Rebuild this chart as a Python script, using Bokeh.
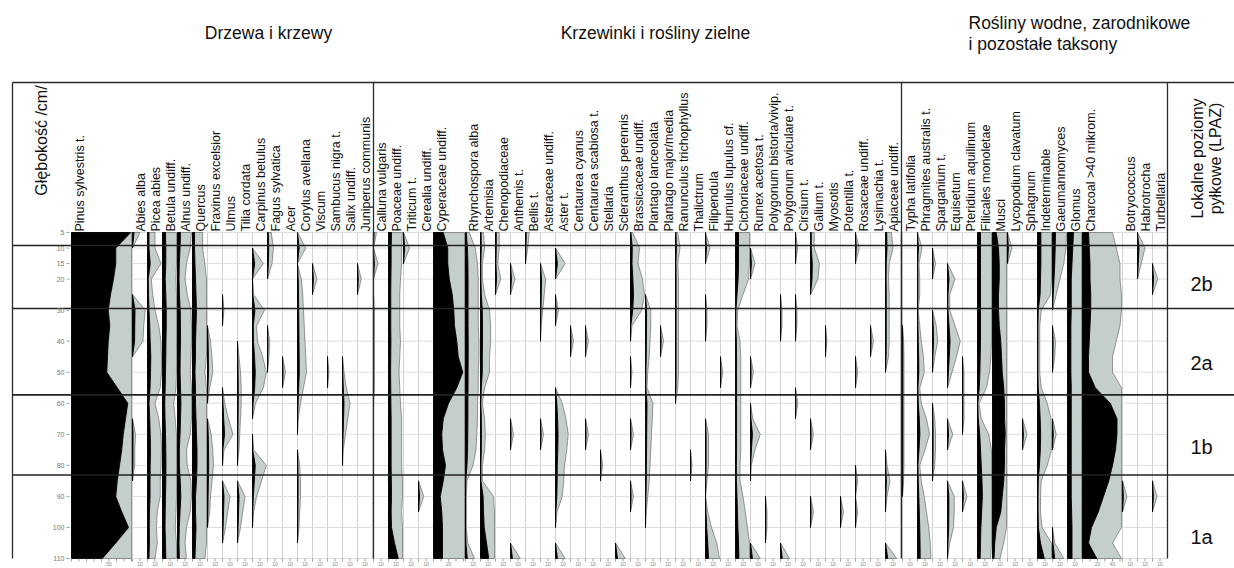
import math
from bokeh.plotting import figure
from bokeh.models import Range1d
from bokeh.core.properties import value
from bokeh.embed import file_html
from bokeh.resources import INLINE

# ---------------- data ----------------
DEPTHS = [5, 10, 15, 20, 25, 30, 35, 40, 45, 50, 55, 60, 65, 70, 75, 80, 85, 90, 95, 100, 105, 110]
DEPTH_TICKS = [5, 10, 15, 20, 30, 40, 50, 60, 70, 80, 90, 100, 110]
ZONE_BOUNDS = [9.2, 29.5, 57.3, 83.1]
ZONE_NAMES = ["2b", "2a", "1b", "1a"]
ZONE_LABEL_DEPTH = [21.5, 47, 74, 103]

GROUP_TITLES = ["Drzewa i krzewy", "Krzewinki i rośliny zielne",
                "Rośliny wodne, zarodnikowe\ni pozostałe taksony"]
DEPTH_TITLE = "Głębokość /cm/"
LPAZ_TITLE = ["Lokalne poziomy", "pyłkowe (LPAZ)"]
PCT_TICKS_NARROW = [10]
PCT_TICKS_WIDE = {"Pinus sylvestris t.": [50], "Cyperaceae undiff.": [20], "Charcoal >40 mikrom.": [20, 40]}

# trees and shrubs (%)
pinus = [79, 59, 59, 56, 52, 49, 51, 49, 48, 47, 61, 75, 72, 69, 67, 64, 61, 59, 67, 76, 59, 41]
abies = [2.0, 0, 0, 0, 0, 3.4, 3.0, 2.8, 0, 0, 0, 0, 0, 0.8, 0.6, 0.6, 0, 0, 0, 0, 0, 0]
picea = [2.0, 2.0, 3.6, 1.0, 1.4, 2.0, 3.0, 3.6, 4.4, 4.0, 3.4, 2.0, 3.0, 3.6, 4.0, 3.6, 3.4, 3.4, 2.6, 2.4, 2.6, 2.0]
betula = [4.0, 4.4, 4.4, 3.6, 4.4, 5.0, 5.0, 4.6, 4.4, 4.0, 3.6, 3.0, 3.4, 4.0, 4.4, 4.6, 4.4, 4.0, 3.6, 3.4, 4.0, 4.4]
alnus = [4.0, 3.4, 2.4, 2.0, 2.6, 3.6, 4.0, 4.0, 3.6, 3.4, 4.0, 4.6, 4.0, 3.4, 2.4, 2.6, 3.6, 4.4, 3.4, 2.4, 2.0, 2.4]
quercus = [2.7, 2.7, 3.3, 4.0, 4.7, 5.3, 4.7, 4.0, 4.0, 3.3, 4.0, 4.0, 4.7, 5.3, 6.0, 6.0, 5.3, 4.0, 4.0, 4.7, 4.0, 3.3]
fraxinus = [0, 0, 0, 0, 0, 0, 0, 0.8, 1.2, 1.4, 0.6, 0, 0, 1.0, 1.4, 1.6, 1.2, 0.8, 0.6, 0, 0, 0]
ulmus = [0, 0, 0, 0, 0, 0.4, 0, 0, 0, 0, 0, 0.6, 1.6, 2.8, 0.4, 0, 0, 2.0, 1.4, 0.8, 0, 0]
tilia = [0, 0, 0, 0, 0, 0, 0, 0, 0.4, 0.8, 1.0, 1.0, 0.8, 0.6, 0.4, 0, 0, 2.0, 1.4, 0.8, 0, 0]
carpinus = [0, 0, 2.9, 0, 0.3, 3.2, 1.1, 1.3, 2.7, 3.7, 2.9, 0.8, 0, 0, 0.3, 3.7, 2.4, 1.1, 0.3, 0, 0, 0]
fagus = [1.0, 1.6, 1.2, 0, 0, 0, 0, 0.6, 0.4, 0, 0, 0, 0, 0, 0, 0, 0, 0, 0, 0, 0, 0]
acer = [0, 0, 0, 0, 0, 0, 0, 0, 0, 0.8, 0, 0, 0, 0, 0, 0, 0, 0, 0, 0, 0, 0]
corylus = [0, 2.2, 0, 1.0, 1.4, 1.6, 1.8, 2.0, 2.2, 2.4, 1.6, 0.8, 0.2, 0, 0, 0.6, 0.8, 0.8, 0.6, 0.4, 0, 0]
viscum = [0, 0, 0, 1.2, 0, 0, 0, 0, 0, 0, 0, 0, 0, 0, 0, 0, 0, 0, 0, 0, 0, 0]
sambucus = [0, 0, 0, 0, 0, 0, 0, 0, 0, 0.4, 0, 0, 0, 0, 0, 0, 0, 0, 0, 0, 0, 0]
salix = [0, 0, 0, 0, 0, 0, 0, 0, 0, 0.4, 1.0, 2.0, 1.4, 0.8, 0.2, 0, 0, 0, 0, 0, 0, 0]
juniperus = [0, 0, 0, 1.0, 0, 0, 0, 0, 0, 0, 0, 0, 0, 0, 0, 0, 0, 0, 0, 0, 0, 0]

# dwarf shrubs and herbs (%)
calluna = [0.8, 0, 1.2, 0, 0, 0.2, 0.2, 0.2, 0.2, 0.2, 0.2, 0, 0, 0, 0, 0, 0, 0, 0, 0, 0, 0]
poaceae = [4, 3.5, 3.5, 3.2, 3, 3, 3, 3.2, 3, 2.8, 3, 3.2, 3.5, 3.5, 3.5, 3.5, 3.8, 4, 3.5, 4, 8, 13]
triticum = [0, 1.6, 0, 0, 0, 0, 0, 0, 0, 0, 0, 0, 0, 0, 0, 0, 0, 0, 0, 0, 0, 0]
cerealia = [0, 0, 0, 0, 0, 0, 0, 0, 0, 0, 0, 0, 0, 0, 0, 0, 0, 1.4, 0, 0, 0, 0]
cyperaceae = [13, 19, 19, 21, 25, 27, 28, 31, 33, 39, 31, 20, 13, 11, 12, 16, 13, 9, 11, 12, 12, 12]
rhynchospora = [1.0, 2.6, 3.2, 3.4, 3.4, 3.4, 3.4, 3.6, 3.6, 3.4, 3.4, 3.2, 3.2, 3.0, 2.8, 2.0, 0.4, 0.2, 0.2, 0.2, 0.6, 2.4]
artemisia = [0.8, 1.1, 0.5, 0.5, 1.1, 2.4, 2.7, 2.7, 2.4, 2.4, 1.1, 0.5, 1.1, 1.3, 1.1, 0.5, 0.5, 3.5, 4, 5, 8, 11]
chenopodiaceae = [1.0, 1.0, 0.6, 1.4, 0, 0, 0, 0, 0, 0, 0, 0, 0, 0, 0, 0, 0, 0, 0, 0, 0, 0]
anthemis = [0, 0, 0, 1.2, 0, 0, 0, 0, 0, 0, 0, 0, 0, 0.8, 0, 0, 0, 0, 0, 0, 0, 2.6]
bellis = [1.0, 0.6, 0, 0, 0, 0, 0, 0, 0, 0, 0, 0, 0, 0, 0, 0, 0, 0, 0, 0, 0, 0]
asteraceae = [0, 0, 0, 1.4, 1.0, 0.6, 0.2, 0, 0, 0, 0, 0, 0, 0.8, 0, 0, 0, 0, 0, 0, 0, 0]
aster = [0, 0, 2.6, 0, 0, 0.8, 0, 0, 0, 0, 0, 1.8, 2.8, 3.4, 3.0, 2.4, 2.2, 1.8, 0.4, 0, 0, 2.6]
centaurea_cyanus = [0, 0, 0, 0, 0, 0, 0, 0.8, 0, 0, 0, 0, 0, 0, 0, 0, 0, 0, 0, 0, 0, 0]
centaurea_scabiosa = [0, 0, 0, 0, 0, 0, 0, 0.8, 0, 0, 0, 0, 0, 0.8, 0, 0, 0, 0, 0, 0, 0, 0]
stellaria = [0, 0, 0, 0, 0, 0, 0, 0, 0, 0, 0, 0, 0, 0, 0, 0.6, 0, 0, 0, 0, 0, 0]
scleranthus = [0, 0, 0, 0, 0, 0, 0, 0, 0, 0, 0, 0, 0, 0, 0, 0, 0, 0, 0, 0, 0, 2.6]
brassicaceae = [0.6, 2.4, 2.0, 3.2, 4.0, 3.0, 0.4, 0, 0, 0.4, 0, 0, 0, 0.8, 0, 0, 0, 0.8, 0, 0, 0, 0]
plantago_lanc = [0, 0, 0, 0, 0, 1.4, 1.4, 1.2, 1.0, 0.6, 0.4, 2.0, 1.8, 1.6, 1.4, 1.2, 1.0, 0.6, 0.2, 0, 0, 0]
plantago_major = [0, 0, 0, 0, 0, 0, 0, 0.8, 0, 0, 0, 0, 0, 0, 0, 0, 0, 0, 0, 0, 0, 0]
ranunculus = [0.6, 1.2, 0.6, 0.8, 0.8, 0.8, 0.8, 0.8, 0.8, 0.8, 0.6, 0, 0, 0, 0, 0, 0, 0, 0, 0, 0, 0]
thalictrum = [0, 0, 0, 0, 0, 0, 0, 0, 0, 0, 0, 0, 0, 0, 0, 0.4, 0, 0, 0, 0, 0, 0]
filipendula = [0, 1.2, 0, 0, 0, 0.4, 0.4, 0, 0, 0, 0, 0, 0, 0.8, 0.8, 0.8, 0.4, 0, 0.6, 1.6, 3.0, 4.0]
humulus = [0, 0, 0, 0, 0, 0, 0, 0, 0, 0.6, 0, 0, 0, 0, 0, 0, 0, 0, 0, 0, 0, 0]
cichoriaceae = [4.0, 4.0, 4.0, 3.5, 2.0, 0.6, 0.4, 1.2, 1.4, 1.4, 1.4, 1.4, 1.4, 1.4, 1.4, 1.2, 1.2, 2.0, 2.6, 3.2, 4.0, 4.5]
rumex = [0, 0, 1.2, 0, 0, 0, 0, 0, 0, 0.8, 0, 0, 0.6, 2.6, 1.2, 0.2, 0, 0, 0, 0, 0, 2.6]
polygonum_bistorta = [0, 0, 0, 0, 0, 0, 0, 0, 0, 0, 0, 0, 0, 0, 0, 0, 0, 0, 0.4, 0.4, 0, 0]
polygonum_aviculare = [0, 0, 0, 0, 0, 0.4, 0.4, 0, 0, 0, 0, 0, 0, 0, 0, 0, 0, 0, 0, 0, 0, 2.4]
cirsium = [0, 0.6, 0, 0, 0, 0.4, 0.4, 0, 0, 0, 0, 0.6, 0, 0, 0, 0, 0, 0, 0, 0, 0, 0]
galium = [1.0, 1.0, 2.4, 2.0, 0, 0, 0, 0, 0, 0, 0, 0, 0, 0.8, 0, 0, 0, 0, 0.8, 0, 0, 0]
myosotis = [0, 0, 0, 0, 0, 0, 0, 0.4, 0, 0, 0, 0, 0, 0, 0, 0, 0, 0, 0, 0, 0, 0]
potentilla = [0, 0, 0, 0, 0, 0, 0, 0, 0, 0, 0, 0, 0, 0, 0, 0, 0, 0, 0.8, 0, 0, 0]
rosaceae = [0, 1.0, 0, 0, 0, 0, 0, 0, 0, 0.6, 0, 0, 0, 0, 0, 0, 0.6, 0, 0.6, 0, 0, 0]
lysimachia = [0, 0, 0, 0, 0, 0, 0, 0.8, 0, 0, 0, 0, 0, 0, 0, 0, 0, 0, 0, 0, 0, 0]
apiaceae = [1.6, 2.0, 1.0, 0.8, 1.0, 1.0, 1.0, 1.0, 0.8, 0, 0, 0, 0, 0, 0, 0.4, 1.2, 0.4, 0, 0, 0, 3.0]

# aquatic, spore plants and other taxa (%)
typha = [0, 0, 0, 0, 0, 0, 0, 0.3, 0.4, 0.4, 0.4, 0.4, 0.4, 0.4, 0.4, 0.4, 0.3, 0, 0, 0, 0, 0]
phragmites = [0, 1.2, 0.4, 0.6, 0.6, 0.2, 0.6, 1.0, 1.6, 1.8, 0.6, 1.0, 2.4, 3.2, 2.0, 0.6, 1.0, 1.8, 2.4, 3.0, 3.4, 3.6]
sparganium = [0, 0, 0.8, 0, 0, 0, 1.0, 1.4, 0.6, 0, 0, 0, 0.6, 0.8, 0.8, 0.6, 0, 0, 0, 0, 0, 0]
equisetum = [0, 0, 0, 2.0, 0.6, 0.6, 2.0, 3.4, 2.4, 1.2, 0, 0, 0, 1.4, 0, 0, 0, 1.8, 1.8, 1.6, 0.6, 0]
pteridium = [0, 0, 0, 0, 0, 0, 0, 0, 0, 0.4, 0.4, 0.4, 0.4, 0, 0, 0, 0, 1.2, 0, 0, 0, 0]
filicales = [4, 4, 4, 4, 4, 4, 4, 4, 3.6, 3.2, 2.4, 0.4, 1.0, 3.0, 4.0, 5.0, 6.0, 6.5, 5.5, 4.5, 4.0, 3.5]
musci = [5, 8, 9, 9, 8, 8, 9, 11, 12, 13, 15, 16, 16, 17, 16, 16, 15, 13, 11, 5, 3, 2]
lycopodium = [0, 1.2, 0, 0, 0, 0, 0, 0, 0, 0, 0, 0, 0, 0, 0, 0, 0, 0, 0, 0, 0, 0]
sphagnum = [0, 0, 0, 0, 0, 0, 0, 0, 0, 0, 0, 0, 0, 1.2, 0, 0, 0, 0, 0, 0, 0, 0]
indeterminable = [4.5, 4.5, 4.5, 4.0, 3.5, 1.0, 0.6, 0.6, 0.6, 0.6, 1.0, 2.6, 3.6, 4.2, 3.8, 2.6, 1.0, 0.8, 0.8, 1.2, 4, 9]
gaeumannomyces = [4.0, 3.6, 3.0, 2.0, 1.0, 0, 0, 0.8, 0.6, 0, 0, 0, 0, 1.0, 0, 0, 0, 0, 0, 0, 0.6, 3.0]
glomus = [8, 7, 6, 5, 5, 5, 4.5, 4.5, 4.5, 4.5, 5, 5, 5, 5, 5, 5, 5, 5, 5.5, 6, 6, 6]
charcoal = [8, 9, 10, 10, 11, 11, 10, 9, 8, 8, 17, 37, 46, 46, 44, 40, 35, 28, 21, 12, 8, 19]
botryococcus = [0, 0, 0, 0, 0, 0, 0, 0, 0, 0, 0, 0, 0, 0, 0, 0, 0, 1.2, 0, 0, 0, 0]
habrotrocha = [0, 2.0, 1.0, 0, 0, 0, 0, 0, 0, 0, 0, 0, 0, 0, 0, 0, 0, 0, 0, 0, 0, 0]
turbellaria = [0, 0, 0, 1.4, 0, 0, 0, 0, 0, 0, 0, 0, 0, 0, 0, 0, 0, 1.2, 0, 0, 0, 0]

TREES = [("Pinus sylvestris t.", pinus), ("Abies alba", abies), ("Picea abies", picea),
         ("Betula undiff.", betula), ("Alnus undiff.", alnus), ("Quercus", quercus),
         ("Fraxinus excelsior", fraxinus), ("Ulmus", ulmus), ("Tilia cordata", tilia),
         ("Carpinus betulus", carpinus), ("Fagus sylvatica", fagus), ("Acer", acer),
         ("Corylus avellana", corylus), ("Viscum", viscum), ("Sambucus nigra t.", sambucus),
         ("Salix undiff.", salix), ("Juniperus communis", juniperus)]
HERBS = [("Calluna vulgaris", calluna), ("Poaceae undiff.", poaceae), ("Triticum t.", triticum),
         ("Cerealia undiff.", cerealia), ("Cyperaceae undiff.", cyperaceae),
         ("Rhynchospora alba", rhynchospora), ("Artemisia", artemisia),
         ("Chenopodiaceae", chenopodiaceae), ("Anthemis t.", anthemis), ("Bellis t.", bellis),
         ("Asteraceae undiff.", asteraceae), ("Aster t.", aster),
         ("Centaurea cyanus", centaurea_cyanus), ("Centaurea scabiosa t.", centaurea_scabiosa),
         ("Stellaria", stellaria), ("Scleranthus perennis", scleranthus),
         ("Brassicaceae undiff.", brassicaceae), ("Plantago lanceolata", plantago_lanc),
         ("Plantago major/media", plantago_major), ("Ranunculus trichophyllus", ranunculus),
         ("Thalictrum", thalictrum), ("Filipendula", filipendula), ("Humulus lupulus cf.", humulus),
         ("Cichoriaceae undiff.", cichoriaceae), ("Rumex acetosa t.", rumex),
         ("Polygonum bistorta/vivip.", polygonum_bistorta),
         ("Polygonum aviculare t.", polygonum_aviculare), ("Cirsium t.", cirsium),
         ("Galium t.", galium), ("Myosotis", myosotis), ("Potentilla t.", potentilla),
         ("Rosaceae undiff.", rosaceae), ("Lysimachia t.", lysimachia),
         ("Apiaceae undiff.", apiaceae)]
OTHERS = [("Typha latifolia", typha), ("Phragmites australis t.", phragmites),
          ("Sparganium t.", sparganium), ("Equisetum", equisetum),
          ("Pteridium aquilinum", pteridium), ("Filicales monoletae", filicales),
          ("Musci", musci), ("Lycopodium clavatum", lycopodium), ("Sphagnum", sphagnum),
          ("Indeterminable", indeterminable), ("Gaeumannomyces", gaeumannomyces),
          ("Glomus", glomus), ("Charcoal >40 mikrom.", charcoal),
          ("Botryococcus", botryococcus), ("Habrotrocha", habrotrocha),
          ("Turbellaria", turbellaria)]

# ---------------- layout / style ----------------
FONT = "Liberation Sans"
K = 0.75          # px per percent
EXAG = 5          # exaggeration of grey curves
NARROW = 15
WIDE = {"Pinus sylvestris t.": 61, "Cyperaceae undiff.": 32, "Charcoal >40 mikrom.": 40}
GROUP_X0 = [71, 373, 902]
GREY = "#c4cecc"
W, H = 1234, 568


def dep(py):
    return 5 + (py - 232) / 3.105


p = figure(width=W, height=H, x_range=Range1d(0, W),
           y_range=Range1d(dep(H), dep(0)), x_axis_location=None, y_axis_location=None,
           toolbar_location=None, output_backend="svg", min_border=0)
p.outline_line_color = None
p.background_fill_color = "white"
p.border_fill_color = "white"
p.grid.visible = False

columns = []  # (name, values, x0, width)
for x0, group in zip(GROUP_X0, [TREES, HERBS, OTHERS]):
    x = x0
    for name, vals in group:
        w = WIDE.get(name, NARROW)
        columns.append((name, vals, x, w))
        x += w
END_X = columns[-1][2] + columns[-1][3]


def runs(vals):
    out, i, n = [], 0, len(vals)
    while i < n:
        if vals[i] > 0:
            j = i
            while j + 1 < n and vals[j + 1] > 0:
                j += 1
            out.append((i, j))
            i = j + 1
        else:
            i += 1
    return out


def polys(x0, vals, factor, cap):
    n = len(vals)
    XS, YS = [], []
    for a, b in runs(vals):
        xs = [x0]
        ys = [DEPTHS[a - 1] if a > 0 else DEPTHS[a]]
        for i in range(a, b + 1):
            xs.append(x0 + min(vals[i] * factor, cap))
            ys.append(DEPTHS[i])
        xs.append(x0)
        ys.append(DEPTHS[b + 1] if b < n - 1 else DEPTHS[b])
        XS.append(xs)
        YS.append(ys)
    return XS, YS


# grid
gx = sorted(set([c[2] for c in columns] + [c[2] + c[3] for c in columns]))
p.segment(x0=gx, y0=[DEPTHS[0]] * len(gx), x1=gx, y1=[DEPTHS[-1]] * len(gx),
          line_color="#d2d2d2", line_width=1)
hx0 = [columns[0][2]] * len(DEPTH_TICKS)
hx1 = [END_X] * len(DEPTH_TICKS)
p.segment(x0=hx0, y0=DEPTH_TICKS, x1=hx1, y1=DEPTH_TICKS, line_color="#dedede", line_width=1)

# grey exaggeration curves and black curves
GX, GY, BX, BY = [], [], [], []
for name, vals, x0, w in columns:
    xs, ys = polys(x0, vals, K * EXAG, w - 1)
    GX += xs
    GY += ys
    xs, ys = polys(x0, vals, K, w - 1)
    BX += xs
    BY += ys
p.patches(GX, GY, fill_color=GREY, line_color="#5a5a5a", line_width=0.6)
p.patches(BX, BY, fill_color="black", line_color="black", line_width=0.9)

# bottom ticks and percentage labels
tx = []
lx, lt = [], []
for name, vals, x0, w in columns:
    k = 0
    while k * 7.5 < w - 0.5:
        tx.append(x0 + k * 7.5)
        k += 1
    for t in PCT_TICKS_WIDE.get(name, PCT_TICKS_NARROW):
        lx.append(x0 + t * K)
        lt.append(str(t))
p.segment(x0=tx, y0=[110] * len(tx), x1=tx, y1=[dep(561)] * len(tx), line_color="#888888", line_width=0.8)
p.text(x=lx, y=[dep(561)] * len(lx), text=lt, text_align="center", text_baseline="top",
       text_font=value(FONT), text_font_size="5px", text_color="#888888")

# frame and zone lines
top = dep(82)
p.segment(x0=[12, 12, 373, 901, END_X], y0=[top, top, top, top, top],
          x1=[W, 12, 373, 901, END_X], y1=[top, 110, 110, 110, 110],
          line_color="#2a2a2a", line_width=1.3)
p.segment(x0=[12] * len(ZONE_BOUNDS), y0=ZONE_BOUNDS, x1=[W] * len(ZONE_BOUNDS), y1=ZONE_BOUNDS,
          line_color="#222222", line_width=1.6)

# taxon labels
p.text(x=[c[2] + 1.5 for c in columns], y=[dep(231)] * len(columns), text=[c[0] for c in columns],
       angle=math.pi / 2, text_align="left", text_baseline="top",
       text_font=value(FONT), text_font_size="12.5px", text_color="#111111")

# depth axis
p.text(x=[64] * len(DEPTH_TICKS), y=DEPTH_TICKS, text=[str(t) for t in DEPTH_TICKS],
       text_align="right", text_baseline="middle", text_font=value(FONT),
       text_font_size="7px", text_color="#777777")
p.segment(x0=[66] * len(DEPTH_TICKS), y0=DEPTH_TICKS, x1=[69] * len(DEPTH_TICKS), y1=DEPTH_TICKS,
          line_color="#888888", line_width=0.8)
p.text(x=[41], y=[dep(140)], text=[DEPTH_TITLE], angle=math.pi / 2, text_align="center",
       text_baseline="middle", text_font=value(FONT), text_font_size="16px", text_color="#111111")

# group titles
p.text(x=[268, 655], y=[dep(32), dep(32)], text=GROUP_TITLES[:2], text_align="center",
       text_baseline="middle", text_font=value(FONT), text_font_size="17.5px", text_color="#111111")
p.text(x=[968, 968], y=[dep(22), dep(43)], text=GROUP_TITLES[2].split("\n"), text_align="left",
       text_baseline="middle", text_font=value(FONT), text_font_size="17.5px", text_color="#111111")

# LPAZ
p.text(x=[1197, 1215], y=[dep(158), dep(158)], text=LPAZ_TITLE, angle=math.pi / 2,
       text_align="center", text_baseline="middle", text_font=value(FONT),
       text_font_size="16px", text_color="#111111")
p.text(x=[1201] * len(ZONE_NAMES), y=ZONE_LABEL_DEPTH, text=ZONE_NAMES, text_align="center",
       text_baseline="middle", text_font=value(FONT), text_font_size="20px", text_color="#111111")

open("out.html", "w").write(file_html(p, INLINE))
